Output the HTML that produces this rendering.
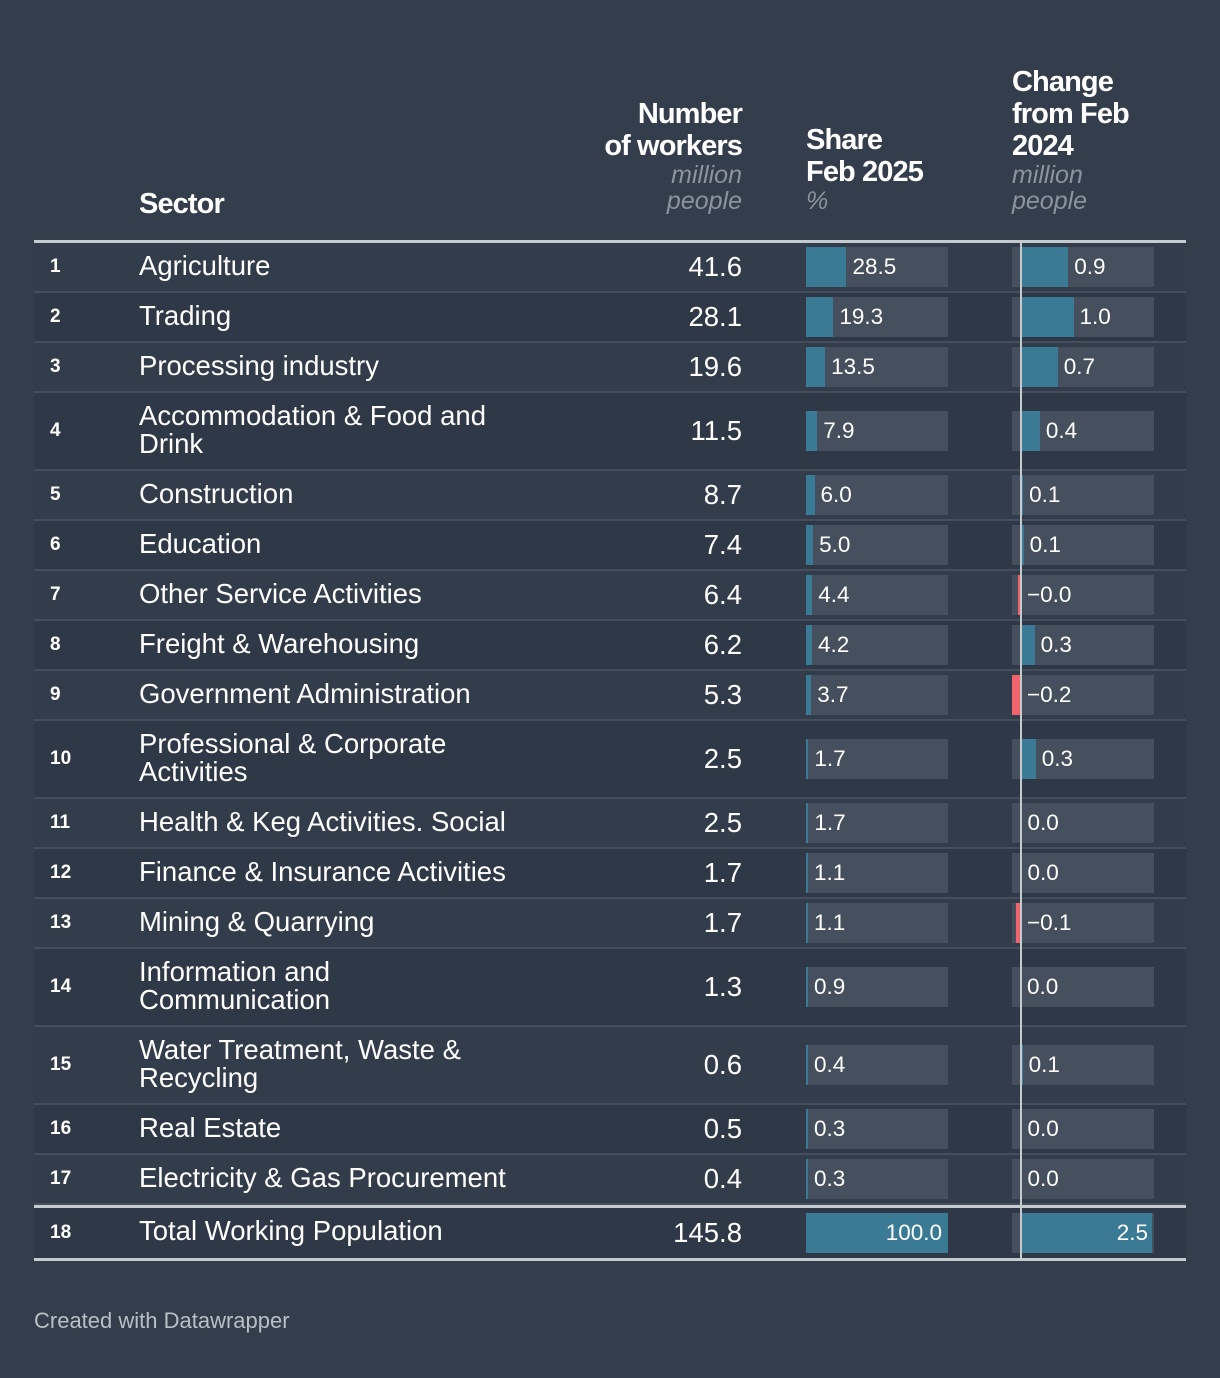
<!DOCTYPE html>
<html><head><meta charset="utf-8">
<style>
*{box-sizing:border-box;margin:0;padding:0}
body{width:1220px;height:1378px;background:#333d4c;font-family:"Liberation Sans",Arial,sans-serif;color:#fff;position:relative;overflow:hidden}
.h{position:absolute;bottom:1164px}
.ht{font-weight:bold;font-size:29px;line-height:32px;letter-spacing:-0.9px}
.hs{font-style:italic;font-size:25px;line-height:26px;color:#8b939e}
#tbl{position:absolute;left:34px;top:243px;width:1152px}
.row{position:relative;border-bottom:2px solid #444e5c;min-height:50px}
.rank{position:absolute;left:16px;top:0;bottom:0;display:flex;align-items:center;font-weight:bold;font-size:19px}
.sec{padding:9px 0 11px 105px;font-size:27.5px;line-height:28px;white-space:pre-line}
.num{position:absolute;right:444px;top:0;bottom:0;display:flex;align-items:center;font-size:27.5px}
.box{position:absolute;height:40px;top:50%;margin-top:-20px;background:#464f5d;width:142px}
.fill{position:absolute;top:0;height:40px;background:#3a7a94}
.lbl{position:absolute;top:0;line-height:40px;font-size:22.5px}
#zero{position:absolute;left:1020px;top:243px;width:2px;height:1018px;background:#c3cbcf}
</style></head><body>
<div class="h" style="left:139px;bottom:1158px"><div class="ht">Sector</div></div>
<div class="h" style="right:478px;text-align:right"><div class="ht">Number<br>of workers</div><div class="hs">million<br>people</div></div>
<div class="h" style="left:806px"><div class="ht">Share<br>Feb 2025</div><div class="hs">%</div></div>
<div class="h" style="left:1012px"><div class="ht">Change<br>from Feb<br>2024</div><div class="hs">million<br>people</div></div>
<div style="position:absolute;left:34px;top:240px;width:1152px;height:3px;background:#c3cbcf"></div>
<div id="tbl"></div>
<div id="zero"></div>
<div style="position:absolute;left:34px;top:1308px;font-size:22px;color:#b9bfc6">Created with Datawrapper</div>
<script>
const sectors=["Agriculture","Trading","Processing industry","Accommodation & Food and\nDrink","Construction","Education","Other Service Activities","Freight & Warehousing","Government Administration","Professional & Corporate\nActivities","Health & Keg Activities. Social","Finance & Insurance Activities","Mining & Quarrying","Information and\nCommunication","Water Treatment, Waste &\nRecycling","Real Estate","Electricity & Gas Procurement","Total Working Population"];
const workers=[41.6,28.1,19.6,11.5,8.7,7.4,6.4,6.2,5.3,2.5,2.5,1.7,1.7,1.3,0.6,0.5,0.4,145.8];
const shares=[28.5,19.3,13.5,7.9,6.0,5.0,4.4,4.2,3.7,1.7,1.7,1.1,1.1,0.9,0.4,0.3,0.3,100.0];
const changes=[0.9,1.0,0.7,0.36,0.04,0.05,-0.06,0.26,-0.17,0.28,0.01,0.01,-0.1,0.0,0.03,0.01,0.01,2.5];
const changeLabels=["0.9","1.0","0.7","0.4","0.1","0.1","\u22120.0","0.3","\u22120.2","0.3","0.0","0.0","\u22120.1","0.0","0.1","0.0","0.0","2.5"];
const shareX=v=>v*1.42;
const chgX=v=>v*52.5;
const tbl=document.getElementById('tbl');
sectors.forEach((s,i)=>{
  const total=i===sectors.length-1;
  const r=document.createElement('div');r.className='row';
  
  
  r.style.background=total?'#2f3846':(i%2?'#2f3846':'#323c4b');
  if(total){r.style.borderTop='3px solid #c3cbcf';r.style.borderBottom='3px solid #c3cbcf';r.style.marginTop='0';r.style.minHeight='56px';}
  const rk=document.createElement('div');rk.className='rank';rk.textContent=i+1;
  
  
  const sc=document.createElement('div');sc.className='sec';sc.textContent=s;
  
  
  if(total)sc.style.padding='9px 0 13px 105px';
  const nm=document.createElement('div');nm.className='num';nm.textContent=workers[i].toFixed(1);
  
  
  r.append(rk,sc,nm);
  const b=document.createElement('div');b.className='box';b.style.left='772px';
  
  
  const w=Math.max(shareX(shares[i]),2);
  const f=document.createElement('div');f.className='fill';f.style.left='0';f.style.width=w+'px';
  const l=document.createElement('div');l.className='lbl';l.textContent=shares[i].toFixed(1);
  if(total){l.style.right='6px';}else l.style.left=(w+6)+'px';
  b.append(f,l);r.append(b);
  const c=document.createElement('div');c.className='box';c.style.left='978px';
  
  
  const v=chgX(changes[i]);
  const cf=document.createElement('div');cf.className='fill';
  if(v>=0){cf.style.left='9px';cf.style.width=Math.max(v,1)+'px';}
  else{cf.style.left=(9+v)+'px';cf.style.width=(-v)+'px';cf.style.background='#f0626c';}
  const cl=document.createElement('div');cl.className='lbl';cl.textContent=changeLabels[i];
  if(total){cl.style.right='6px';}else cl.style.left=(9+Math.max(v,0)+6)+'px';
  c.append(cf,cl);r.append(c);
  tbl.appendChild(r);
});
</script>
</body></html>
